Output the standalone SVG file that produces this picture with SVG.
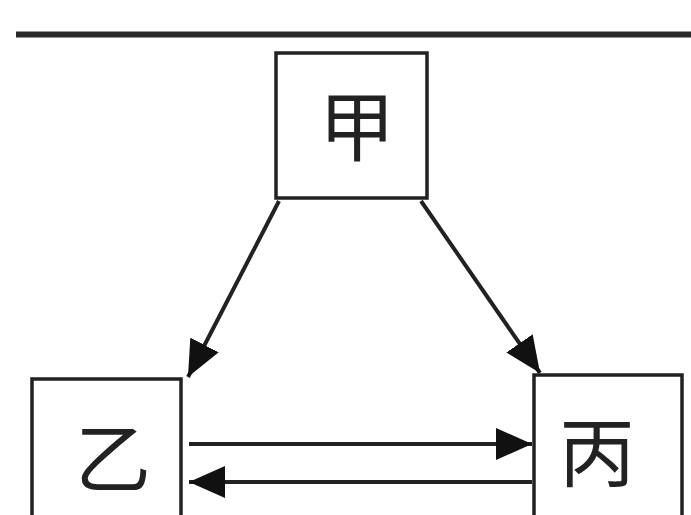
<svg xmlns="http://www.w3.org/2000/svg" width="691" height="515" viewBox="0 0 691 515">
  <style>
    .box { fill: #fff; stroke: #222; stroke-width: 3.5; }
    .label { font-family: "Noto Sans CJK SC", "Noto Sans", sans-serif; font-size: 76px; fill: #222; text-anchor: middle; dominant-baseline: central; }
    .edge { stroke: #222; stroke-width: 4; fill: none; marker-end: url(#arrow); }
  </style>
  <defs>
    <marker id="arrow" markerUnits="userSpaceOnUse" markerWidth="38" markerHeight="32" refX="36" refY="16" orient="auto">
      <path d="M0,0 L36,16 L0,32 Z" fill="#111"/>
    </marker>
  </defs>
  <rect width="691" height="515" fill="#fff"/>
  <!-- top rule -->
  <line x1="16" y1="34.5" x2="691" y2="34.5" stroke="#2a2a2a" stroke-width="6"/>

  <g id="node-jia">
    <rect class="box" x="276" y="53" width="151" height="145"/>
    <text class="label" x="357" y="122">甲</text>
  </g>
  <g id="node-yi">
    <rect class="box" x="32" y="379" width="149" height="150"/>
    <text class="label" x="113" y="454">乙</text>
  </g>
  <g id="node-bing">
    <rect class="box" x="534" y="375" width="148" height="150"/>
    <text class="label" x="597" y="448">丙</text>
  </g>

  <g id="connectors">
    <line class="edge" x1="279" y1="201" x2="188" y2="377"/>
    <line class="edge" x1="421" y1="201" x2="540" y2="373"/>
    <line class="edge" x1="189" y1="444" x2="532" y2="444"/>
    <line class="edge" x1="532" y1="482" x2="189" y2="482"/>
  </g>
</svg>
